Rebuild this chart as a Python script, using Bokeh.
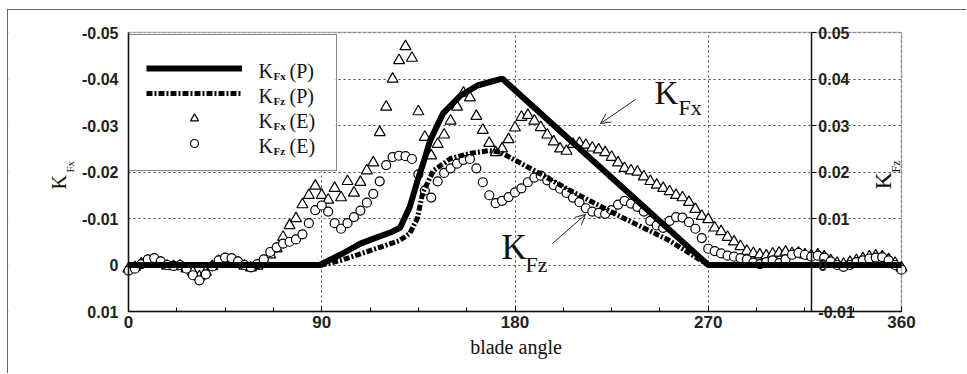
import math
from bokeh.plotting import figure
from bokeh.models import (Range1d, LinearAxis, FixedTicker, CustomJSTickFormatter,
                          Legend, LegendItem, Label, Arrow, OpenHead, BoxAnnotation)
from bokeh.embed import file_html
from bokeh.resources import INLINE

# ---------------- data ----------------
# prediction K_Fx (P)
angle_fx_p = [0, 89, 99, 108, 116, 122, 126.5, 131, 134.5, 137, 140.5, 146.5, 154.5, 162.5, 174, 270, 360]
kfx_p = [0, 0, -0.0023, -0.0046, -0.0060, -0.0070, -0.0080, -0.0125, -0.0180, -0.0215, -0.0268,
         -0.0326, -0.0364, -0.0386, -0.0401, 0, 0]

# prediction K_Fz (P)
angle_fz_p = [0, 90, 99, 108, 117, 126, 131, 134.5, 137, 142, 150, 159, 168, 173, 185, 207, 230, 251, 270, 360]
kfz_p = [0, 0, 0.0010, 0.0024, 0.0038, 0.0052, 0.0068, 0.0100, 0.0155, 0.0203, 0.0229, 0.0240,
         0.0246, 0.0243, 0.0213, 0.0157, 0.0102, 0.0055, 0, 0]

# experiment, sampled every 3 degrees
angle_e = list(range(0, 361, 3))
kfx_e = [0.0008, 0.0005, -0.0003, -0.0008, -0.0012, -0.0005, 0.0002, 0.0003, 0.0002, 0.0008,
         0.0015, 0.0025, 0.0015, 0.0003, -0.0008, -0.0012, -0.0010, -0.0005, 0.0002, 0.0006,
         0.0002, -0.0008, -0.0022, -0.0035, -0.0060, -0.0085, -0.0100, -0.0130, -0.0150, -0.0170,
         -0.0150, -0.0140, -0.0165, -0.0145, -0.0180, -0.0155, -0.0178, -0.0203, -0.0220, -0.0285,
         -0.0340, -0.0400, -0.0440, -0.0470, -0.0445, -0.0330, -0.0275, -0.0235, -0.0260, -0.0280,
         -0.0310, -0.0340, -0.0370, -0.0360, -0.0320, -0.0290, -0.0262, -0.0242, -0.0250, -0.0270,
         -0.0295, -0.0318, -0.0322, -0.0310, -0.0296, -0.0280, -0.0265, -0.0250, -0.0245, -0.0260,
         -0.0262, -0.0258, -0.0252, -0.0248, -0.0242, -0.0232, -0.0220, -0.0208, -0.0203, -0.0200,
         -0.0190, -0.0180, -0.0172, -0.0165, -0.0158, -0.0150, -0.0145, -0.0135, -0.0120, -0.0105,
         -0.0098, -0.0080, -0.0072, -0.0060, -0.0050, -0.0040, -0.0030, -0.0025, -0.0022, -0.0020,
         -0.0024, -0.0026, -0.0028, -0.0025, -0.0026, -0.0022, -0.0020, -0.0022, -0.0018, -0.0010,
         -0.0004, -0.0002, -0.0006, -0.0010, -0.0014, -0.0018, -0.0020, -0.0018, -0.0012, -0.0004,
         0.0006]
kfz_e = [-0.0012, -0.0008, 0.0002, 0.0012, 0.0015, 0.0008, 0.0000, -0.0002, 0.0000, -0.0008,
         -0.0022, -0.0033, -0.0020, -0.0003, 0.0010, 0.0016, 0.0015, 0.0008, 0.0000, -0.0005,
         0.0002, 0.0012, 0.0028, 0.0038, 0.0046, 0.0050, 0.0055, 0.0066, 0.0090, 0.0118,
         0.0128, 0.0115, 0.0090, 0.0078, 0.0090, 0.0103, 0.0117, 0.0134, 0.0153, 0.0180,
         0.0215, 0.0232, 0.0235, 0.0234, 0.0228, 0.0195, 0.0160, 0.0145, 0.0180, 0.0198,
         0.0208, 0.0218, 0.0226, 0.0228, 0.0208, 0.0178, 0.0150, 0.0133, 0.0138, 0.0146,
         0.0156, 0.0165, 0.0178, 0.0188, 0.0192, 0.0182, 0.0172, 0.0164, 0.0155, 0.0145,
         0.0135, 0.0122, 0.0115, 0.0112, 0.0110, 0.0118, 0.0130, 0.0138, 0.0132, 0.0125,
         0.0115, 0.0095, 0.0085, 0.0080, 0.0095, 0.0103, 0.0102, 0.0092, 0.0078, 0.0058,
         0.0035, 0.0030, 0.0025, 0.0020, 0.0018, 0.0015, 0.0012, 0.0005, 0.0002, 0.0006,
         0.0010, 0.0004, 0.0012, 0.0022, 0.0026, 0.0022, 0.0018, 0.0020, 0.0016, 0.0008,
         0.0000, -0.0004, 0.0000, 0.0006, 0.0010, 0.0014, 0.0016, 0.0017, 0.0010, 0.0000,
         -0.0010]

# axes
x_ticks = [0, 90, 180, 270, 360]
x_minor = [22.5, 45, 67.5, 112.5, 135, 157.5, 202.5, 225, 247.5, 292.5, 315, 337.5]
fx_ticks = [-0.05, -0.04, -0.03, -0.02, -0.01, 0, 0.01]
fx_labels = ["-0.05", "-0.04", "-0.03", "-0.02", "-0.01", "0", "0.01"]
fz_ticks = [-0.01, 0, 0.01, 0.02, 0.03, 0.04, 0.05]
fz_labels = ["-0.01", "0", "0.01", "0.02", "0.03", "0.04", "0.05"]
fz_axis_at = 318
x_title = "blade angle"
legend_subs = ["Fx", "Fz", "Fx", "Fz"]
legend_tails = ["(P)", "(P)", "(E)", "(E)"]

# ---------------- layout geometry (page pixels) ----------------
OX, OY = 8, 10                 # canvas origin on the page
W, H = 959, 364                # canvas size
FL, FR, FT, FB = 128, 901, 32, 311   # plot box on the page


def dx(px):
    return (px - FL) * 360.0 / (FR - FL)


def dy(py):
    return -0.05 + (py - FT) * 0.06 / (FB - FT)


SERIF = "Liberation Serif"
SANS = "Liberation Sans"
INK = "#111"

# the bokeh frame spans the whole canvas; the plot box is drawn inside it
p = figure(width=W, height=H,
           x_range=Range1d(dx(OX), dx(OX + W)),
           y_range=Range1d(dy(OY + H), dy(OY)),
           output_backend="svg", toolbar_location=None,
           min_border_left=0, min_border_right=0, min_border_top=0, min_border_bottom=0)
p.margin = (9, 0, 0, 7)
p.styles = {"border-left": "1px solid #666", "border-top": "1px solid #666"}
p.extra_y_ranges = {"kfz": Range1d(-dy(OY + H), -dy(OY))}
p.background_fill_color = "white"
p.border_fill_color = "white"
p.outline_line_color = None


def fmt(ticks, labels):
    return CustomJSTickFormatter(args=dict(vals=ticks, labs=labels),
                                 code="for (let i = 0; i < vals.length; i++) { if (Math.abs(vals[i] - tick) < 1e-9) return labs[i]; } return '';")


def style_labels(ax, size):
    ax.major_label_text_font = SANS
    ax.major_label_text_font_size = f"{size}px"
    ax.major_label_text_font_style = "bold"
    ax.major_label_text_color = "#222"
    ax.axis_line_width = 1.5
    ax.axis_line_color = INK


# x axis (at K_Fx = 0.01)
xa = p.xaxis[0]
xa.fixed_location = fx_ticks[-1]
xa.bounds = (x_ticks[0], x_ticks[-1])
xa.ticker = FixedTicker(ticks=x_ticks, minor_ticks=x_minor)
xa.major_tick_in = 5
xa.major_tick_out = 0
xa.minor_tick_in = 4
xa.minor_tick_out = 0
style_labels(xa, 17)
xa.major_label_standoff = 4

# left axis (K_Fx, inverted) at angle 0
ya = p.yaxis[0]
ya.fixed_location = x_ticks[0]
ya.bounds = (fx_ticks[0], fx_ticks[-1])
ya.ticker = FixedTicker(ticks=fx_ticks)
ya.formatter = fmt(fx_ticks, fx_labels)
ya.major_tick_in = 0
ya.major_tick_out = 0
ya.minor_tick_in = 0
ya.minor_tick_out = 0
style_labels(ya, 16)
ya.major_label_standoff = 10

# right axis (K_Fz) at a fixed blade angle
ra = LinearAxis(y_range_name="kfz", fixed_location=fz_axis_at, bounds=(fz_ticks[0], fz_ticks[-1]),
                ticker=FixedTicker(ticks=fz_ticks), formatter=fmt(fz_ticks, fz_labels))
ra.major_tick_in = 0
ra.major_tick_out = 5
ra.minor_tick_in = 0
ra.minor_tick_out = 0
style_labels(ra, 16)
ra.major_label_standoff = 2
p.add_layout(ra, "right")

# grid
for g in (p.xgrid[0], p.ygrid[0]):
    g.grid_line_color = "#444"
    g.grid_line_width = 1
    g.grid_line_dash = "2 3"

# white covers: outside the plot box and under the legend (hide the grid there)
cover = dict(fill_color="white", fill_alpha=1, line_alpha=0, level="underlay")
p.add_layout(BoxAnnotation(right=x_ticks[0], **cover))
p.add_layout(BoxAnnotation(left=x_ticks[-1], **cover))
p.add_layout(BoxAnnotation(bottom=fx_ticks[0], **cover))
p.add_layout(BoxAnnotation(top=fx_ticks[-1], **cover))
p.add_layout(BoxAnnotation(left=x_ticks[0], right=dx(335), top=fx_ticks[0], bottom=dy(171), **cover))

# ---------------- glyphs ----------------
r_fx_e = p.scatter(angle_e, kfx_e, marker="triangle", size=11, line_color="black",
                   line_width=1.2, fill_color="white")
r_fz_e = p.scatter(angle_e, kfz_e, marker="circle", size=9, line_color="black",
                   line_width=1.2, fill_color="white", y_range_name="kfz")
r_fz_p = p.line(angle_fz_p, kfz_p, line_color="black", line_width=5, line_dash="6 2 2 2",
                y_range_name="kfz")
r_fx_p = p.line(angle_fx_p, kfx_p, line_color="black", line_width=6)

# plot box outline
p.add_layout(BoxAnnotation(left=x_ticks[0], right=x_ticks[-1], top=fx_ticks[0], bottom=fx_ticks[-1],
                           fill_alpha=0, line_color=INK, line_width=1.5))

legend = Legend(items=[LegendItem(label=" ", renderers=[r_fx_p]),
                       LegendItem(label=" ", renderers=[r_fz_p]),
                       LegendItem(label=" ", renderers=[r_fx_e]),
                       LegendItem(label=" ", renderers=[r_fz_e])],
                location=(FL - OX, OY + H - 171), margin=0, padding=17, spacing=5,
                label_height=20, glyph_height=20, glyph_width=96,
                label_standoff=16, label_width=61,
                border_line_color=INK, border_line_width=1.5,
                background_fill_alpha=0,
                title=" ", title_text_font_size="6px", title_standoff=0,
                label_text_font_size="12px")
p.add_layout(legend)


def txt(px, py, text, size, font=SERIF, style="normal", angle=0.0, align="left"):
    # (px, py): left end / vertical middle of the text on the page
    p.add_layout(Label(x=px - OX, y=py - OY, x_units="canvas", y_units="canvas", text=text,
                       text_font=font, text_font_size=f"{size}px", text_font_style=style,
                       text_color=INK, text_align=align, text_baseline="middle",
                       angle=angle, level="overlay"))


def add_k(px, py, sub, sub_dx, sub_dy, ksize, ssize, sub_bold=False, angle=0.0, tail=None, tail_dx=0):
    txt(px, py, "K", ksize, angle=angle)
    txt(px + sub_dx, py + sub_dy, sub, ssize, style="bold" if sub_bold else "normal", angle=angle)
    if tail is not None:
        txt(px + tail_dx, py, tail, ksize, angle=angle)


# legend texts
for i, (sub, tail) in enumerate(zip(legend_subs, legend_tails)):
    mid = 69 + i * 25.3
    add_k(257, mid, sub, 15, 5, 20, 11, sub_bold=True, tail=tail, tail_dx=31)

# x axis title
txt((FL + FR) / 2, 345, x_title, 20, align="center")

# in-plot labels with arrows
add_k(653, 91, "Fx", 24, 15, 33, 22)
add_k(500, 246, "Fz", 24, 17, 35, 22)
p.add_layout(Arrow(end=OpenHead(size=10, line_width=1, line_color="#222"),
                   x_start=dx(635), y_start=dy(99), x_end=dx(600), y_end=dy(123),
                   line_width=1, line_color="#222"))
p.add_layout(Arrow(end=OpenHead(size=10, line_width=1, line_color="#222"),
                   x_start=dx(552), y_start=dy(243), x_end=dx(585), y_end=dy(214),
                   line_width=1, line_color="#222"))

# rotated axis titles (text reads upwards; px is the vertical middle line of the letters)
add_k(57, 188, "Fx", 11, -17, 20, 11, angle=math.pi / 2)
add_k(881, 188, "Fz", 13, -17, 24, 12, angle=math.pi / 2)

open("out.html", "w").write(file_html(p, INLINE))
